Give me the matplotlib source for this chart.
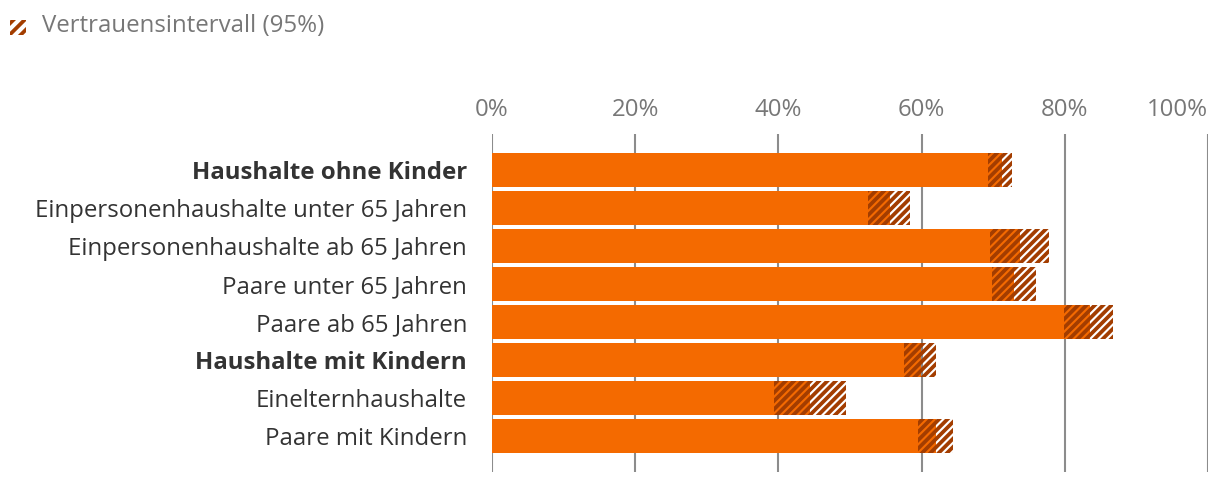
import matplotlib
matplotlib.use("Agg")
import matplotlib.pyplot as plt
from matplotlib.patches import Rectangle

# data (percent)
categories = [
    "Haushalte ohne Kinder",
    "Einpersonenhaushalte unter 65 Jahren",
    "Einpersonenhaushalte ab 65 Jahren",
    "Paare unter 65 Jahren",
    "Paare ab 65 Jahren",
    "Haushalte mit Kindern",
    "Einelternhaushalte",
    "Paare mit Kindern",
]
bold_rows = ["Haushalte ohne Kinder", "Haushalte mit Kindern"]
ci_low = [69.3, 52.5, 69.6, 69.8, 79.9, 57.5, 39.4, 59.5]
value = [71.2, 55.6, 73.7, 72.9, 83.5, 59.9, 44.4, 62.0]
ci_high = [72.6, 58.4, 77.8, 76.0, 86.7, 62.0, 49.4, 64.4]
xticks = [0, 20, 40, 60, 80, 100]
xtick_labels = ["0%", "20%", "40%", "60%", "80%", "100%"]
legend_label = "Vertrauensintervall (95%)"

ORANGE = "#f46a00"
BROWN = "#a33d00"
GRAY = "#777777"
DARK = "#333333"
FS = 17.3

plt.rcParams["font.family"] = ["Open Sans", "DejaVu Sans"]
plt.rcParams["hatch.linewidth"] = 2.7

fig = plt.figure(figsize=(12.2, 4.86), dpi=100)
ax = fig.add_axes([492 / 1220, 14 / 486, 716 / 1220, 338 / 486])

ypos = list(range(len(categories)))
h = 0.89
lo_w = [v - l for v, l in zip(value, ci_low)]
hi_w = [hh - v for hh, v in zip(ci_high, value)]

ax.barh(ypos, ci_low, height=h, color=ORANGE, linewidth=0, zorder=2)
ax.barh(ypos, lo_w, left=ci_low, height=h, facecolor=ORANGE, edgecolor=BROWN,
        hatch="////", linewidth=0, zorder=2)
ax.barh(ypos, hi_w, left=value, height=h, facecolor="none", edgecolor=BROWN,
        hatch="////", linewidth=0, zorder=2)

ax.set_xlim(0, 100)
ax.set_ylim(len(categories) - 1 + 0.95, -0.95)
ax.set_xticks(xticks)
ax.set_xticklabels(xtick_labels)
ax.xaxis.tick_top()
ax.tick_params(axis="x", length=0, pad=9, labelsize=FS, labelcolor=GRAY)
ax.get_xticklabels()[-1].set_ha("right")
ax.set_yticks(ypos)
ax.set_yticklabels(categories)
ax.tick_params(axis="y", length=0, pad=18, labelsize=FS, labelcolor=DARK)
for lab in ax.get_yticklabels():
    if lab.get_text() in bold_rows:
        lab.set_fontweight("bold")

ax.grid(axis="x", color="#8c8c8c", linewidth=1.5, zorder=0)
ax.set_axisbelow(True)
for s in ax.spines.values():
    s.set_visible(False)

# legend
fig.patches.append(Rectangle((10 / 1220, 1 - 35 / 486), 16 / 1220, 15 / 486,
                             transform=fig.transFigure, facecolor="none",
                             edgecolor=BROWN, hatch="///", linewidth=0))
fig.text(42 / 1220, 1 - 26 / 486, legend_label, fontsize=FS, color=GRAY,
         va="center", ha="left")

fig.savefig("out.png", dpi=100)
